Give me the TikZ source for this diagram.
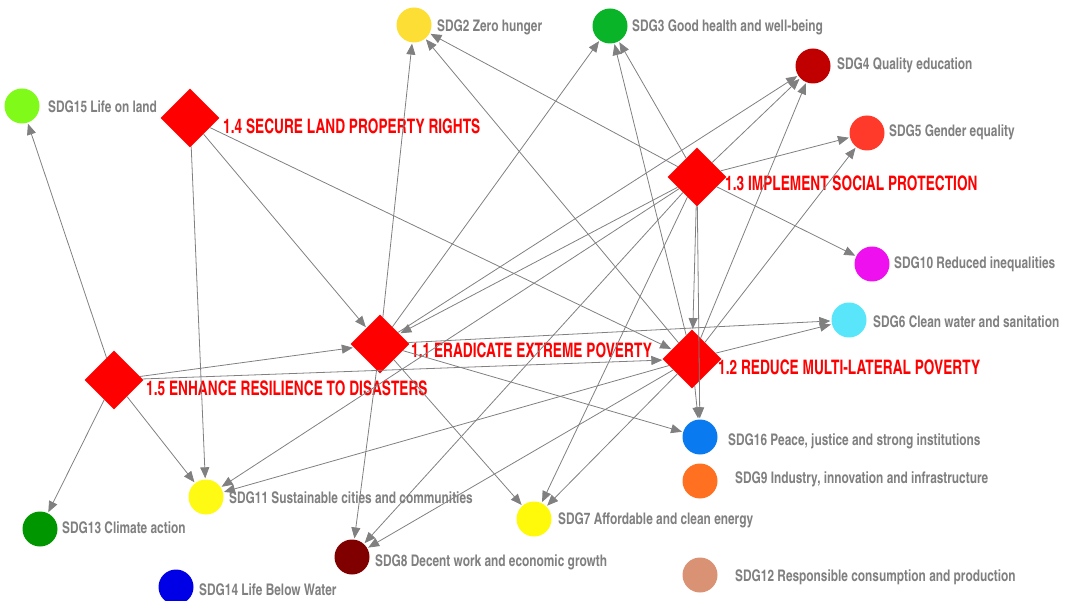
\documentclass[tikz,border=0pt]{standalone}
\usepackage{fontspec}
\usetikzlibrary{shapes.geometric,arrows.meta}
\newfontfamily\redfont[FakeStretch=0.835]{texgyreheroscn-bold.otf}
\newfontfamily\grayfont[FakeStretch=0.905]{texgyreheroscn-bold.otf}
\definecolor{lblgray}{RGB}{128,128,128}
\definecolor{c2}{RGB}{252,222,52}
\definecolor{c3}{RGB}{10,180,40}
\definecolor{c4}{RGB}{192,0,0}
\definecolor{c5}{RGB}{255,58,42}
\definecolor{c6}{RGB}{90,230,250}
\definecolor{c7}{RGB}{255,250,10}
\definecolor{c8}{RGB}{128,0,0}
\definecolor{c9}{RGB}{255,112,32}
\definecolor{c10}{RGB}{238,16,238}
\definecolor{c11}{RGB}{255,250,20}
\definecolor{c12}{RGB}{218,146,116}
\definecolor{c13}{RGB}{0,150,0}
\definecolor{c14}{RGB}{0,0,230}
\definecolor{c15}{RGB}{128,250,25}
\definecolor{c16}{RGB}{10,122,240}
\begin{document}
\begin{tikzpicture}[x=1pt,y=-1pt,
	goal/.style={shape=diamond,fill=red,inner sep=0pt,minimum size=59pt},
	sdg/.style={circle,inner sep=0pt,minimum size=35pt},
	rlbl/.style={anchor=base west,inner sep=0pt,text=red,font=\redfont\fontsize{20}{20}\selectfont},
	glbl/.style={anchor=base west,inner sep=0pt,text=lblgray,font=\grayfont\fontsize{16}{16}\selectfont},
	link/.style={draw=lblgray,line width=0.8pt,-{Triangle[length=11pt,width=9pt]},shorten >=1pt}]
		\useasboundingbox (0,0) rectangle (1086,601);
		
		% targets
		\node[goal] (d11) at (380,344){};
		\node[goal] (d12) at (692,359){};
		\node[goal] (d13) at (697,177){};
		\node[goal] (d14) at (190,118){};
		\node[goal] (d15) at (114,380){};
		
		\node[rlbl] (t11) at (411,357){1.1 ERADICATE EXTREME POVERTY};
		\node[rlbl] (t12) at (718,374){1.2 REDUCE MULTI-LATERAL POVERTY};
		\node[rlbl] (t13) at (725,191){1.3 IMPLEMENT SOCIAL PROTECTION};
		\node[rlbl] (t14) at (223,134){1.4 SECURE LAND PROPERTY RIGHTS};
		\node[rlbl] (t15) at (146,395){1.5 ENHANCE RESILIENCE TO DISASTERS};
		
		% goals
		\node[sdg,fill=c2] (s2) at (414,25){};
		\node[sdg,fill=c3] (s3) at (610,26){};
		\node[sdg,fill=c4] (s4) at (813,66){};
		\node[sdg,fill=c5] (s5) at (867,133){};
		\node[sdg,fill=c6] (s6) at (849,320){};
		\node[sdg,fill=c7] (s7) at (534,519){};
		\node[sdg,fill=c8] (s8) at (352,557){};
		\node[sdg,fill=c9] (s9) at (700,481){};
		\node[sdg,fill=c10] (s10) at (872,264){};
		\node[sdg,fill=c11] (s11) at (206,497){};
		\node[sdg,fill=c12] (s12) at (700,575){};
		\node[sdg,fill=c13] (s13) at (40,529){};
		\node[sdg,fill=c14] (s14) at (176,587){};
		\node[sdg,fill=c15] (s15) at (22,106){};
		\node[sdg,fill=c16] (s16) at (700,437){};
		
		\node[glbl] (l2) at (437,32){SDG2 Zero hunger};
		\node[glbl] (l3) at (632,32){SDG3 Good health and well-being};
		\node[glbl] (l4) at (837,70){SDG4 Quality education};
		\node[glbl] (l5) at (889,137){SDG5 Gender equality};
		\node[glbl] (l6) at (873,327){SDG6 Clean water and sanitation};
		\node[glbl] (l7) at (558,524){SDG7 Affordable and clean energy};
		\node[glbl] (l8) at (375,566){SDG8 Decent work and economic growth};
		\node[glbl] (l9) at (735,483){SDG9 Industry, innovation and infrastructure};
		\node[glbl] (l10) at (894,269){SDG10 Reduced inequalities};
		\node[glbl] (l11) at (229,503){SDG11 Sustainable cities and communities};
		\node[glbl] (l12) at (735,581){SDG12 Responsible consumption and production};
		\node[glbl] (l13) at (62,533){SDG13 Climate action};
		\node[glbl] (l14) at (199,595){SDG14 Life Below Water};
		\node[glbl] (l15) at (48,113){SDG15 Life on land};
		\node[glbl] (l16) at (728,445){SDG16 Peace, justice and strong institutions};
		
		% links
		\foreach \t in {s2,s3,s4,s6,s7,s8,s16}{
			\draw[link] (d11) -- (\t);
		}
		\foreach \t in {s2,s3,s4,s5,s6,s7,s8,s11,s16}{
			\draw[link] (d12) -- (\t);
		}
		\foreach \t in {s2,s3,s4,s5,s7,s8,s10,s11,s16,d11,d12}{
			\draw[link] (d13) -- (\t);
		}
		\foreach \t in {s11,d11,d12}{
			\draw[link] (d14) -- (\t);
		}
		\foreach \t in {s11,s13,s15,d11,d12}{
			\draw[link] (d15) -- (\t);
		}
\end{tikzpicture}
\end{document}
